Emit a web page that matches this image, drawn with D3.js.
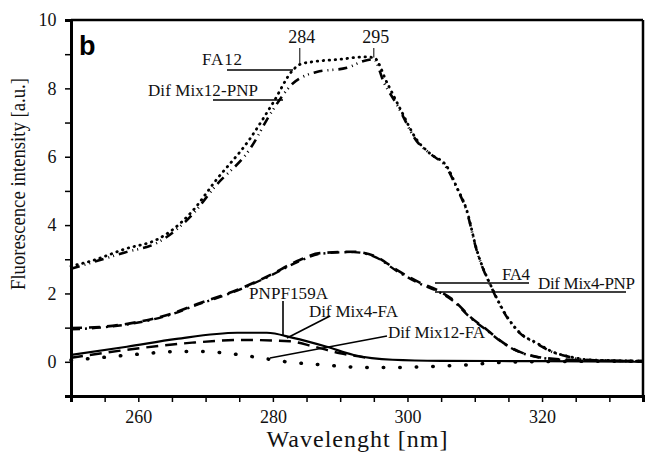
<!DOCTYPE html>
<html><head><meta charset="utf-8">
<script src="https://cdn.jsdelivr.net/npm/d3@7"></script>
<style>html,body{margin:0;padding:0;background:#fff;}svg{display:block;}
.serif{font-family:"Liberation Serif","Times New Roman","DejaVu Serif",serif;}
</style>
</head><body>
<script>
// ---- data ----
const fa12_wl  = [250,253,258,263,265,268,271.5,276.5,280,283,284,286,290,293.5,295,297,299,301.4,303.3,305.9,307.3,308.8,310.3,312.7,314.8,316.7,319.2,321.6,324.1,327,335];
const fa12_val = [2.8,2.95,3.3,3.6,3.85,4.4,5.3,6.5,7.57,8.54,8.7,8.78,8.85,8.92,8.9,8.15,7.37,6.49,6.1,5.7,5.12,4.44,3.27,2.1,1.32,0.85,0.55,0.29,0.15,0.06,0.02];
const mix12pnp_wl  = [250,253,258,263,268,271.5,276.5,280,283,285,286.5,291,293.5,295,296.5,298.5,301.4,303.3,305.9,307.3,308.8,310.3,312.7,314.8,316.7,319.2,321.6,324.1,327,335];
const mix12pnp_val = [2.72,2.9,3.2,3.5,4.3,5.15,6.2,7.37,8.15,8.39,8.48,8.6,8.8,8.85,8.17,7.5,6.45,6.1,5.65,5.1,4.4,3.25,2.08,1.3,0.84,0.53,0.28,0.14,0.05,0.02];
const fa4_wl  = [250,254.3,259.2,264.3,269.2,274,279.1,284,287,292,295.4,298.4,301.9,304.4,306.8,309.3,311.8,314.2,316.7,319.2,324,335];
const fa4_val = [0.99,1.02,1.14,1.37,1.72,2.05,2.49,2.98,3.18,3.22,3.07,2.69,2.31,2.1,1.81,1.32,0.94,0.56,0.29,0.15,0.06,0.02];
const mix4pnp_wl  = [250,254.3,259.2,264.3,269.2,274,279.1,284,287,292,295.4,298.4,301.9,304.4,306.8,309.3,311.8,314.2,316.7,319.2,324,335];
const mix4pnp_val = [0.95,1.0,1.12,1.35,1.7,2.03,2.47,2.95,3.16,3.21,3.05,2.66,2.28,2.07,1.78,1.3,0.92,0.55,0.28,0.14,0.05,0.02];
const pnp_wl  = [250,258.3,265.7,274.7,279.1,283,288,292,297.8,305,320,335];
const pnp_val = [0.2,0.44,0.67,0.85,0.85,0.7,0.44,0.2,0.06,0.03,0.02,0.0];
const mix4fa_wl  = [250,258.3,268,275.6,282.5,286,290,294];
const mix4fa_val = [0.12,0.35,0.56,0.64,0.6,0.45,0.25,0.12];
const mix12fa_wl  = [250,254.3,259.8,266,270,273.6,277,282,287.5,293,297.8,302.9,308.8,312.7,318,335];
const mix12fa_val = [0.05,0.12,0.22,0.3,0.3,0.24,0.15,0.0,-0.09,-0.16,-0.17,-0.14,-0.09,-0.03,0.0,0.02];
const xTickLabels = [260,280,300,320];
const yTickLabels = [0,2,4,6,8,10];
const peakLabels = [284,295];

const W = 646, H = 452;
const svg = d3.select("body").append("svg").attr("width",W).attr("height",H);
svg.append("rect").attr("width",W).attr("height",H).attr("fill","#fff");

const x = d3.scaleLinear().domain([250,335]).range([71,643]);
const y = d3.scaleLinear().domain([-1,10]).range([396,20]);

// frame top & right
svg.append("line").attr("x1",x(250)).attr("x2",x(335)).attr("y1",y(10)).attr("y2",y(10)).attr("stroke","#000").attr("stroke-width",2.5);
svg.append("line").attr("x1",x(335)).attr("x2",x(335)).attr("y1",y(10)).attr("y2",y(-1)).attr("stroke","#000").attr("stroke-width",2.5);

// x axis
const xa = svg.append("g").attr("transform",`translate(0,${y(-1)})`)
  .call(d3.axisBottom(x).tickValues(d3.range(250,336,5)).tickSize(6).tickFormat(d=>xTickLabels.includes(d)?d:""));
// y axis
const ya = svg.append("g").attr("transform",`translate(${x(250)},0)`)
  .call(d3.axisLeft(y).tickValues(d3.range(-1,11,1)).tickSize(6).tickFormat(d=>yTickLabels.includes(d)?d:""));
[xa,ya].forEach(g=>{
  g.attr("font-family",null);
  g.select(".domain").attr("stroke","#000").attr("stroke-width",3);
  g.selectAll(".tick line").attr("stroke","#000").attr("stroke-width",1.5);
  g.selectAll("text").attr("class","serif").attr("font-size",18).attr("fill","#111");
});
xa.selectAll("text").attr("dy","1.0em");
ya.selectAll("text").attr("dx","-0.3em");

svg.append("text").attr("class","serif").attr("x",(x(250)+x(335))/2).attr("y",447).attr("text-anchor","middle")
  .attr("font-size",24).attr("textLength",181).attr("lengthAdjust","spacing").attr("fill","#111").text("Wavelenght [nm]");
svg.append("text").attr("class","serif").attr("transform",`translate(25,184) rotate(-90)`).attr("text-anchor","middle")
  .attr("font-size",20).attr("textLength",212).attr("lengthAdjust","spacingAndGlyphs").attr("fill","#111").text("Fluorescence intensity [a.u.]");

svg.append("text").attr("x",79).attr("y",55).style("font-family","'Liberation Sans',Arial,sans-serif")
  .attr("font-weight","bold").attr("font-size",27).text("b");

// curves
const line = d3.line().x(d=>x(d[0])).y(d=>y(d[1])).curve(d3.curveMonotoneX);
function draw(wl, val, dash, width, cap){
  svg.append("path").datum(wl.map((w,i)=>[w,val[i]])).attr("d",line)
    .attr("fill","none").attr("stroke","#000").attr("stroke-width",width)
    .attr("stroke-dasharray",dash).attr("stroke-linecap",cap||"butt").attr("stroke-linejoin","round");
}
draw(pnp_wl, pnp_val, null, 2.2);
draw(mix4fa_wl, mix4fa_val, "12,7", 2.4);
draw(mix12fa_wl, mix12fa_val, "0.5,16", 3.5, "round");
draw(fa4_wl, fa4_val, "11,7", 2.6);
draw(mix4pnp_wl, mix4pnp_val, "9,5,2,5", 2.4);
draw(fa12_wl, fa12_val, "0.5,5.5", 2.8, "round");
draw(mix12pnp_wl, mix12pnp_val, "9,5,1,4,1,5", 2.6);

// annotations
function txt(tx,ty,s,size,anchor,len){
  const t = svg.append("text").attr("class","serif").attr("x",tx).attr("y",ty).attr("font-size",size||17)
    .attr("text-anchor",anchor||"start").attr("fill","#111").text(s);
  if(len) t.attr("textLength",len).attr("lengthAdjust","spacing");
}
function seg(x1,y1,x2,y2,w){
  svg.append("line").attr("x1",x1).attr("y1",y1).attr("x2",x2).attr("y2",y2).attr("stroke","#000").attr("stroke-width",w||1.6);
}
peakLabels.forEach(p=>{
  const px = x(p);
  txt(px+2, 43, p, 18, "middle");
  seg(px, 48, px, y(p===284?8.72:8.9), 1);
});
txt(202,65,"FA12",17,"start",40); seg(227,70,293,70);
txt(148,96,"Dif Mix12-PNP",17,"start",110); seg(213,100,283,100);
txt(502,280,"FA4",17,"start",28); seg(435,283,529,283);
txt(538,289,"Dif Mix4-PNP",17,"start",97); seg(435,292,626,292);
txt(249,299,"PNPF159A",17,"start",79); seg(283,301,283,335);
txt(309,317,"Dif Mix4-FA",17,"start",89); seg(330,316,287,338);
txt(388,338,"Dif Mix12-FA",17,"start",97); seg(387,336,270,358);
</script>
</body></html>
